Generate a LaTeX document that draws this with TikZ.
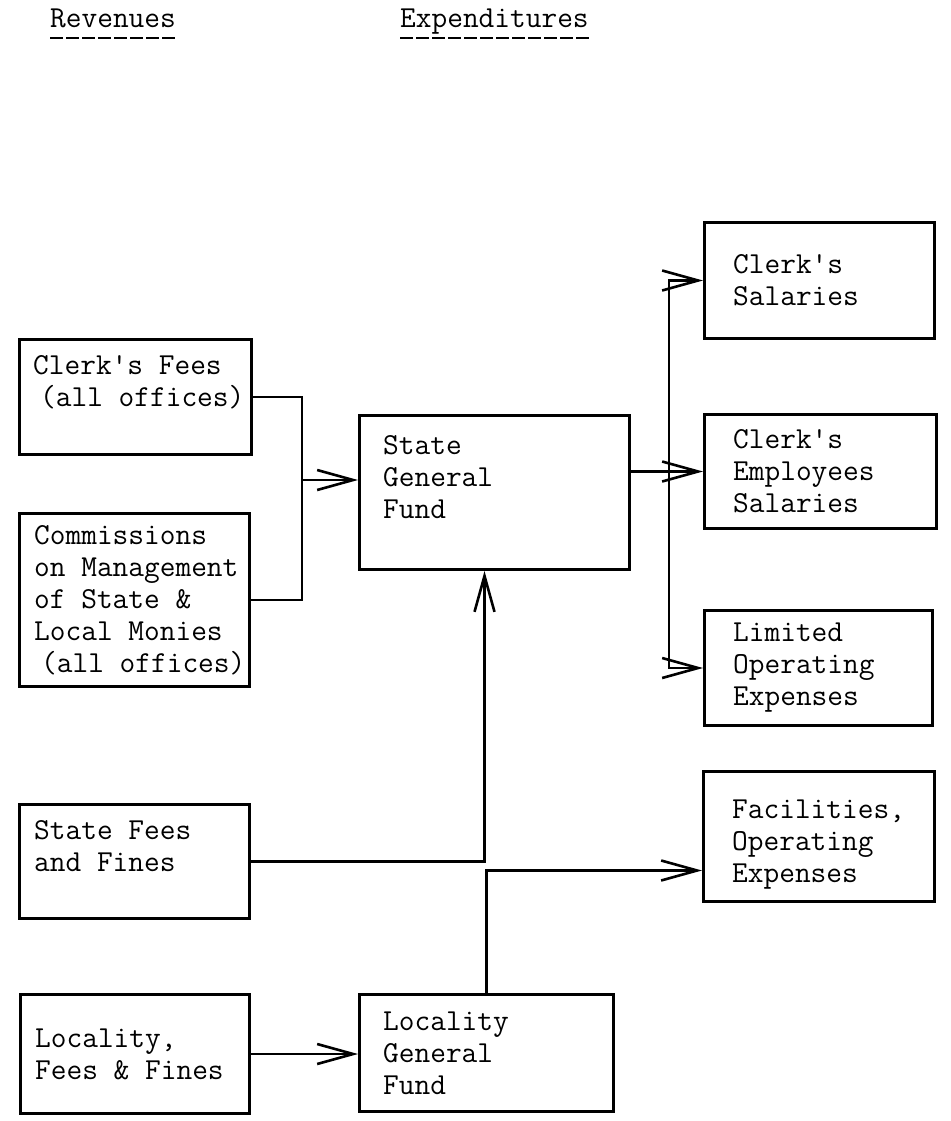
\documentclass[tikz,border=0pt]{standalone}
\usepackage{fontspec}
\usetikzlibrary{arrows.meta}

\begin{document}
\begin{tikzpicture}[x=1pt, y=-1pt,
    fund/.style={draw, line width=3pt, anchor=north west, inner sep=0pt},
    txt/.style={anchor=west, align=left, inner sep=0pt,
        font=\ttfamily\fontsize{30.5}{32}\selectfont},
    head/.style={anchor=base west, inner sep=0pt,
        font=\ttfamily\fontsize{30.5}{32}\selectfont},
    flow/.style={line width=2.6pt, -{Straight Barb[length=36pt, width=20pt]}},
    link/.style={line width=2.6pt},
    uline/.style={line width=2.5pt, dash pattern=on 13pt off 3pt}]
    \useasboundingbox (0,0) rectangle (950,1121);

    % Headings
    \node[head] (rev) at (50,28) {Revenues};
    \node[head] (exp) at (400,28) {Expenditures};
    \draw[uline] ([yshift=-10pt]rev.base west) -- ([yshift=-10pt]rev.base east);
    \draw[uline] ([yshift=-10pt]exp.base west) -- ([yshift=-10pt]exp.base east);

    % Revenues
    \node[fund, minimum width=232pt, minimum height=115pt,
        label={[txt, xshift=15pt]west:Clerk's Fees\\\hspace*{7pt}(all offices)\\~}] (clerkfees) at (18,338) {};
    \node[fund, minimum width=230pt, minimum height=173pt,
        label={[txt, xshift=16pt]west:Commissions\\on Management\\of State \&\\Local Monies\\\hspace*{7pt}(all offices)}] (commissions) at (18,512) {};
    \node[fund, minimum width=230pt, minimum height=114pt,
        label={[txt, xshift=16pt]west:State Fees\\and Fines\\~}] (statefees) at (18,803) {};
    \node[fund, minimum width=229pt, minimum height=119pt,
        label={[txt, xshift=16pt]west:Locality,\\Fees \& Fines}] (locfees) at (19,993) {};

    % Funds
    \node[fund, minimum width=270pt, minimum height=154pt,
        label={[txt, xshift=25pt]west:State\\General\\Fund\\~}] (sgf) at (358,414) {};
    \node[fund, minimum width=254pt, minimum height=117pt,
        label={[txt, xshift=25pt]west:Locality\\General\\Fund}] (lgf) at (358,993) {};

    % Expenditures
    \node[fund, minimum width=230pt, minimum height=116pt,
        label={[txt, xshift=30pt]west:Clerk's\\Salaries}] (salaries) at (703,221) {};
    \node[fund, minimum width=232pt, minimum height=114pt,
        label={[txt, xshift=30pt]west:Clerk's\\Employees\\Salaries}] (emp) at (703,413) {};
    \node[fund, minimum width=228pt, minimum height=115pt,
        label={[txt, xshift=30pt]west:Limited\\Operating\\Expenses}] (limited) at (703,609) {};
    \node[fund, minimum width=231pt, minimum height=130pt,
        label={[txt, xshift=30pt, yshift=-8pt]west:Facilities,\\Operating\\Expenses}] (fac) at (702,770) {};

    % Connectors
    \coordinate (join) at (302,480);
    \coordinate (split) at (669,0);
    \draw[link] (clerkfees.east) -| (join) |- (commissions.east);
    \draw[flow] (join) -- (join -| sgf.west);
    \draw[flow] (statefees.east) -| ([xshift=-10pt]sgf.south);
    \draw[flow] (locfees.east) -- (locfees.east -| lgf.west);
    \draw[flow] (lgf.north) |- ([yshift=-34pt]fac.west);
    \draw[flow] (sgf.east |- emp.west) -- (emp.west);
    \draw[flow] (split |- emp.west) |- (salaries.west);
    \draw[flow] (split |- emp.west) |- (limited.west);
\end{tikzpicture}
\end{document}
